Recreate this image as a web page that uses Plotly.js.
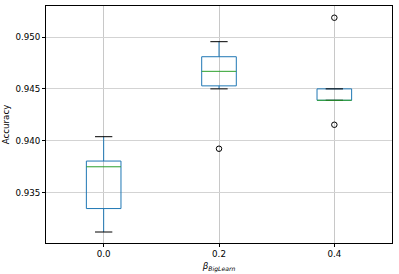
<!DOCTYPE html>
<html>
<head>
<meta charset="utf-8">
<script src="https://cdn.plot.ly/plotly-3.0.1.min.js"></script>
<style>html,body{margin:0;padding:0;background:#fff;}#chart{width:399px;height:274px;}</style>
</head>
<body>
<div id="chart"></div>
<script>
// Data
const categories = ["0.0", "0.2", "0.4"];
const lowerWhisker = [0.9312, 0.9450, 0.9439];
const q1 = [0.93346, 0.94529, 0.94390];
const median = [0.93749, 0.94669, 0.94390];
const q3 = [0.93804, 0.94810, 0.94500];
const upperWhisker = [0.94039, 0.94955, 0.94500];
const outliers = [[], [0.93923], [0.95186, 0.94154]];

const boxHalf = 0.15, capHalf = 0.075;
const blue = '#1f77b4', green = '#2ca02c';
const traces = [];
categories.forEach((c, i) => {
  const x = i + 1;
  // whiskers
  traces.push({x: [x, x, null, x, x], y: [lowerWhisker[i], q1[i], null, q3[i], upperWhisker[i]],
    mode: 'lines', line: {color: blue, width: 1}, hoverinfo: 'skip'});
  // box
  traces.push({x: [x - boxHalf, x + boxHalf, x + boxHalf, x - boxHalf, x - boxHalf],
    y: [q1[i], q1[i], q3[i], q3[i], q1[i]], mode: 'lines', line: {color: blue, width: 1}, hoverinfo: 'skip'});
  // caps
  traces.push({x: [x - capHalf, x + capHalf, null, x - capHalf, x + capHalf],
    y: [lowerWhisker[i], lowerWhisker[i], null, upperWhisker[i], upperWhisker[i]],
    mode: 'lines', line: {color: 'black', width: 1}, hoverinfo: 'skip'});
  // median
  traces.push({x: [x - boxHalf, x + boxHalf], y: [median[i], median[i]],
    mode: 'lines', line: {color: green, width: 1}, hoverinfo: 'skip'});
  // outliers
  if (outliers[i].length) {
    traces.push({x: outliers[i].map(() => x), y: outliers[i], mode: 'markers',
      marker: {symbol: 'circle-open', size: 5.5, color: 'black', line: {width: 1, color: 'black'}}, hoverinfo: 'skip'});
  }
});

const font = {family: 'DejaVu Sans', size: 8.7, color: 'black'};
const layout = {
  width: 399, height: 274,
  margin: {l: 46, r: 7, t: 6, b: 31},
  showlegend: false,
  paper_bgcolor: 'white', plot_bgcolor: 'white',
  font: font,
  xaxis: {
    range: [0.5, 3.5], tickmode: 'array', tickvals: categories.map((c, i) => i + 1), ticktext: categories,
    showgrid: true, gridcolor: '#c8c8c8', gridwidth: 1, zeroline: false,
    showline: true, mirror: true, linecolor: 'black', linewidth: 1,
    ticks: 'outside', ticklen: 3, tickcolor: 'black', tickfont: font,
    title: {text: '<i>β</i><sub><i>BigLearn</i></sub>', font: {family: 'DejaVu Sans', size: 8.7, color: 'black'}, standoff: 4}
  },
  yaxis: {
    range: [0.93014, 0.95299], tickvals: [0.935, 0.940, 0.945, 0.950], tickformat: '.3f',
    showgrid: true, gridcolor: '#d3d3d3', gridwidth: 1, zeroline: false,
    showline: true, mirror: true, linecolor: 'black', linewidth: 1,
    ticks: 'outside', ticklen: 3, tickcolor: 'black', tickfont: font,
    title: {text: 'Accuracy', font: font, standoff: 4}
  }
};
Plotly.newPlot('chart', traces, layout, {displayModeBar: false, staticPlot: true});
</script>
</body>
</html>
